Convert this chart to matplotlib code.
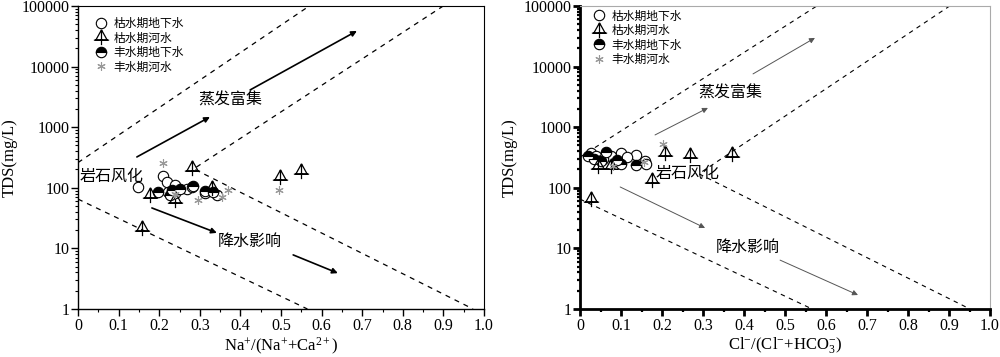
#!/usr/bin/env python3
"""Gibbs diagrams: TDS vs Na/(Na+Ca) and Cl/(Cl+HCO3)."""

import matplotlib
matplotlib.use("Agg")
import matplotlib.pyplot as plt
from matplotlib.path import Path
from matplotlib.ticker import FixedLocator, LogLocator, NullFormatter

plt.rcParams["font.family"] = ["Liberation Serif", "Noto Sans CJK SC"]
plt.rcParams["mathtext.fontset"] = "custom"
plt.rcParams["mathtext.rm"] = "Liberation Serif"
plt.rcParams["mathtext.it"] = "Liberation Serif"
plt.rcParams["axes.unicode_minus"] = True

CJK = ["Noto Sans CJK SC", "DejaVu Sans"]

LEGEND_LABELS = ["枯水期地下水", "枯水期河水", "丰水期地下水", "丰水期河水"]

# --- left panel: Na+/(Na+ + Ca2+) ---
l_dry_gw_x = [0.149, 0.210, 0.218, 0.239, 0.222, 0.268, 0.280, 0.313, 0.342, 0.239]
l_dry_gw_y = [104, 157, 126, 111, 86, 94, 104, 82, 76, 82]
l_dry_river_x = [0.280, 0.177, 0.239, 0.329, 0.498, 0.549, 0.157]
l_dry_river_y = [210, 76, 63, 98, 151, 189, 21.7]
l_wet_gw_x = [0.198, 0.231, 0.284, 0.313, 0.333, 0.227, 0.250]
l_wet_gw_y = [86, 92, 107, 90, 86, 76, 95]
l_wet_river_x = [0.210, 0.296, 0.354, 0.370, 0.495, 0.240]
l_wet_river_y = [254, 63, 71, 92, 92, 80]

# --- right panel: Cl-/(Cl- + HCO3-) ---
r_dry_gw_x = [0.028, 0.100, 0.137, 0.039, 0.076, 0.159, 0.115, 0.055, 0.162]
r_dry_gw_y = [375, 375, 345, 335, 335, 280, 320, 300, 250]
r_dry_river_x = [0.207, 0.268, 0.370, 0.175, 0.028, 0.044, 0.076]
r_dry_river_y = [380, 348, 361, 134, 65, 225, 225]
r_wet_gw_x = [0.063, 0.020, 0.051, 0.100, 0.137, 0.090, 0.035]
r_wet_gw_y = [390, 335, 280, 250, 240, 290, 300]
r_wet_river_x = [0.202, 0.080, 0.155]
r_wet_river_y = [525, 228, 262]

# Gibbs boundary lines (x, y)
l_bounds = [
    ([0, 0.57], [260, 1e5]),
    ([0, 0.565], [65, 1]),
    ([0.90, 0.285, 0.973], [1e5, 205, 1]),
]
r_bounds = [
    ([0, 0.578], [320, 1e5]),
    ([0, 0.566], [65, 1]),
    ([0.902, 0.29, 0.951], [1e5, 170, 1]),
]

# custom triangle-with-cross marker
TRI = Path(
    [(0, 1), (-0.75, -0.35), (0.75, -0.35), (0, 1),
     (-1, -0.35), (1, -0.35), (0, 1), (0, -1)],
    [Path.MOVETO, Path.LINETO, Path.LINETO, Path.LINETO,
     Path.MOVETO, Path.LINETO, Path.MOVETO, Path.LINETO],
)


def draw_points(ax, dgx, dgy, drx, dry, wgx, wgy, wrx, wry):
    ax.plot(dgx, dgy, ls="none", marker="o", ms=7.5, mfc="white", mec="black",
            mew=0.8, label=LEGEND_LABELS[0], zorder=3)
    ax.plot(wgx, wgy, ls="none", marker="o", ms=7.5, fillstyle="top",
            mfc="black", mfcalt="white", mec="black", mew=0.8, label=LEGEND_LABELS[2], zorder=4)
    ax.plot(drx, dry, ls="none", marker=TRI, ms=11, mfc="none", mec="black",
            mew=0.9, label=LEGEND_LABELS[1], zorder=5)
    ax.plot(wrx, wry, ls="none", marker=(6, 2, 0), ms=6, color="#999999",
            mew=0.8, label=LEGEND_LABELS[3], zorder=5)


def style_axes(ax, xlabel, heavy=False):
    ax.set_yscale("log")
    ax.set_xlim(0, 1.0)
    ax.set_ylim(1, 1e5)
    ax.set_xticks([0, 0.1, 0.2, 0.3, 0.4, 0.5, 0.6, 0.7, 0.8, 0.9, 1.0])
    ax.set_xticklabels(["0", "0.1", "0.2", "0.3", "0.4", "0.5", "0.6", "0.7", "0.8", "0.9", "1.0"])
    ax.xaxis.set_minor_locator(FixedLocator([0.05 + 0.1 * i for i in range(10)]))
    ax.set_yticks([1, 10, 100, 1000, 10000, 100000])
    ax.set_yticklabels(["1", "10", "100", "1000", "10000", "100000"])
    ax.yaxis.set_minor_locator(LogLocator(base=10, subs=range(2, 10)))
    ax.yaxis.set_minor_formatter(NullFormatter())
    lw = 2.0 if heavy else 1.0
    ax.tick_params(axis="both", which="major", direction="out", length=5,
                   width=lw, labelsize=11.5)
    ax.tick_params(axis="both", which="minor", direction="out", length=2.5, width=lw * 0.8)
    ax.tick_params(axis="x", which="major", pad=1.5)
    ax.tick_params(axis="y", which="major", pad=1)
    for side in ["left", "bottom"]:
        ax.spines[side].set_linewidth(lw)
    if heavy:
        for side in ["top", "right"]:
            ax.spines[side].set_color("#aaaaaa")
            ax.spines[side].set_linewidth(0.8)
    ax.set_xlabel(xlabel, fontsize=12, labelpad=1)
    ax.set_ylabel("TDS(mg/L)", fontsize=12)


def add_arrow(ax, start, end, color, lw):
    ax.annotate("", xy=end, xytext=start,
                arrowprops=dict(arrowstyle="-|>", color=color, lw=lw,
                                mutation_scale=8, shrinkA=0, shrinkB=0))


fig = plt.figure(figsize=(10, 3.57), dpi=100)
ax1 = fig.add_axes([0.078, 0.1345, 0.406, 0.849])
ax2 = fig.add_axes([0.580, 0.1345, 0.410, 0.849])

# left panel
for bx, by in l_bounds:
    ax1.plot(bx, by, ls=(0, (4, 4)), color="black", lw=0.9)
draw_points(ax1, l_dry_gw_x, l_dry_gw_y, l_dry_river_x, l_dry_river_y,
            l_wet_gw_x, l_wet_gw_y, l_wet_river_x, l_wet_river_y)
for s, e in [((0.145, 322), (0.325, 1473)), ((0.424, 4110), (0.687, 38650)),
             ((0.182, 46.4), (0.342, 18)), ((0.530, 7.8), (0.640, 3.9))]:
    add_arrow(ax1, s, e, "black", 1.2)
ax1.text(0.374, 2810, "蒸发富集", family=CJK, fontsize=11.5, ha="center", va="center")
ax1.text(0.003, 157, "岩石风化", family=CJK, fontsize=11.5, ha="left", va="center")
ax1.text(0.424, 12.8, "降水影响", family=CJK, fontsize=11.5, ha="center", va="center")
style_axes(ax1, r"Na$^{+}$/(Na$^{+}$+Ca$^{2+}$)")
ax1.yaxis.set_label_coords(-0.148, 0.5)

# right panel
for bx, by in r_bounds:
    ax2.plot(bx, by, ls=(0, (4, 4)), color="black", lw=0.8)
draw_points(ax2, r_dry_gw_x, r_dry_gw_y, r_dry_river_x, r_dry_river_y,
            r_wet_gw_x, r_wet_gw_y, r_wet_river_x, r_wet_river_y)
for s, e in [((0.183, 743), (0.312, 2075)), ((0.422, 7550), (0.573, 29650)),
             ((0.098, 103), (0.305, 21.7)), ((0.488, 6.4), (0.678, 1.7))]:
    add_arrow(ax2, s, e, "#555555", 0.7)
ax2.text(0.366, 3665, "蒸发富集", family=CJK, fontsize=11.5, ha="center", va="center")
ax2.text(0.263, 175, "岩石风化", family=CJK, fontsize=11.5, ha="center", va="center")
ax2.text(0.410, 10.5, "降水影响", family=CJK, fontsize=11.5, ha="center", va="center")
style_axes(ax2, r"Cl$^{-}$/(Cl$^{-}$+HCO$_{3}^{-}$)", heavy=True)
ax2.yaxis.set_label_coords(-0.152, 0.5)

for ax, anchor in [(ax1, (0.02, 0.99)), (ax2, (0.01, 1.015))]:
    handles, labels = ax.get_legend_handles_labels()
    order = [0, 2, 1, 3]
    ax.legend([handles[i] for i in order], [labels[i] for i in order],
              loc="upper left", bbox_to_anchor=anchor, frameon=False,
              prop={"family": CJK, "size": 8.5}, handlelength=1.2,
              handletextpad=0.4, labelspacing=0.12, borderaxespad=0.3)

fig.savefig("out.png", dpi=100)
